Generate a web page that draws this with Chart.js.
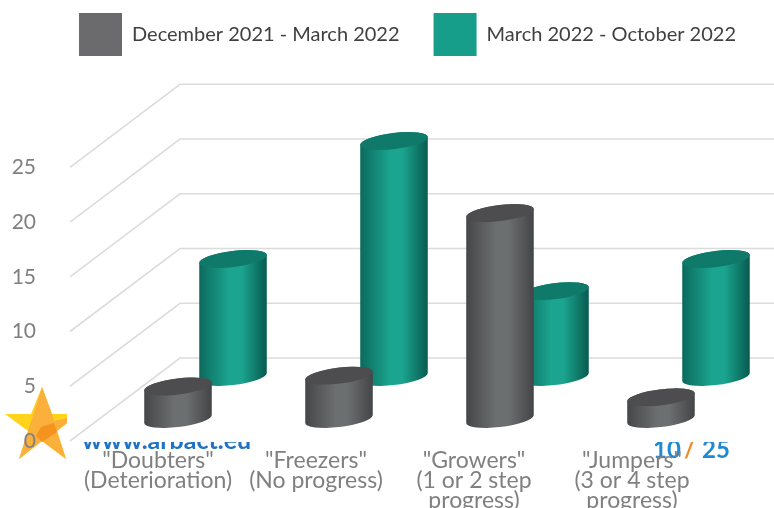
<!DOCTYPE html>
<html>
<head>
<meta charset="utf-8">
<style>
  html, body { margin: 0; padding: 0; background: #fff; overflow: hidden; }
</style>
</head>
<body>
<canvas id="chart" width="774" height="508"></canvas>
<script src="https://cdn.jsdelivr.net/npm/chart.js@4/dist/chart.umd.min.js"></script>
<script>
const categories = [
  ['"Doubters"', '(Deterioration)'],
  ['"Freezers"', '(No progress)'],
  ['"Growers"', '(1 or 2 step', 'progress)'],
  ['"Jumpers"', '(3 or 4 step', 'progress)']
];
const seriesNames = ['December 2021 - March 2022', 'March 2022 - October 2022'];
const decemberMarch = [3, 4, 19, 2];
const marchOctober = [11, 22, 8, 11];

const fontName = 'Lato, sans-serif';
const lastTick = 25;

// depth of each row of cylinders on the 3d floor, and look of the cylinders
// far is the slight perspective shrink of the height
const looks = [
  { dx: 30, dy: -22, far: 0.99, cap: '#4d4d4f', edgeL: '#454647', mid: '#6c6f70', edgeR: '#434445' },
  { dx: 85, dy: -64, far: 0.98, cap: '#0f7a6a', edgeL: '#0b6a5c', mid: '#1ba590', edgeR: '#085a4e' }
];
const radiusX = 34, radiusY = 8, tilt = -7 * Math.PI / 180;

function drawCylinder(ctx, x, topY, baseY, look) {
  const t0 = Math.atan(-(radiusY / radiusX) * Math.tan(tilt));
  const grad = ctx.createLinearGradient(x - radiusX, 0, x + radiusX, 0);
  grad.addColorStop(0, look.edgeL);
  grad.addColorStop(0.45, look.mid);
  grad.addColorStop(0.62, look.mid);
  grad.addColorStop(1, look.edgeR);
  ctx.fillStyle = grad;
  ctx.beginPath();
  ctx.ellipse(x, baseY, radiusX, radiusY, tilt, t0, t0 + Math.PI);
  ctx.ellipse(x, topY, radiusX, radiusY, tilt, t0 + Math.PI, t0 + 2 * Math.PI);
  ctx.closePath();
  ctx.fill();
  ctx.fillStyle = look.cap;
  ctx.beginPath();
  ctx.ellipse(x, topY, radiusX, radiusY, tilt, 0, 2 * Math.PI);
  ctx.fill();
}

function polygon(ctx, pts, color) {
  ctx.fillStyle = color;
  ctx.beginPath();
  pts.forEach((p, i) => i ? ctx.lineTo(p[0], p[1]) : ctx.moveTo(p[0], p[1]));
  ctx.closePath();
  ctx.fill();
}

// slide leftovers under the chart: star, site address, page number
const slideBits = {
  id: 'slideBits',
  beforeDraw(chart) {
    const ctx = chart.ctx;
    ctx.save();
    ctx.beginPath();
    ctx.rect(0, 380, 67, 90);
    ctx.clip();
    polygon(ctx, [[42,387],[52,414],[79,414],[57,431],[66,459],[42,441],[19,459],[28,431],[5,414],[31,414]], '#ffd31a');
    polygon(ctx, [[42,387],[52,414],[54,421],[67,418],[67,423],[57,431],[66,459],[42,441],[19,459],[28,431]], '#fbb03b');
    polygon(ctx, [[36,436],[41,427],[54,423],[57,432],[42,442]], '#f6921e');
    ctx.restore();

    ctx.save();
    ctx.beginPath();
    ctx.rect(70, 442, 704, 30);
    ctx.clip();
    ctx.textBaseline = 'alphabetic';
    ctx.font = 'bold 25px ' + fontName;
    ctx.fillStyle = '#1f72c4';
    ctx.fillText('www.arbact.eu', 82, 449);
    ctx.font = 'bold 24px ' + fontName;
    ctx.fillStyle = '#1f8ad2';
    ctx.fillText('10', 653, 458);
    ctx.fillText('25', 702, 458);
    ctx.fillStyle = '#f28c28';
    ctx.fillText('/', 684, 458);
    ctx.restore();
  },
  // walls of the 3d box
  beforeDatasetsDraw(chart) {
    const ctx = chart.ctx, y = chart.scales.y;
    ctx.save();
    ctx.strokeStyle = '#dcdcdc';
    ctx.lineWidth = 1.6;
    y.ticks.forEach(t => {
      const py = y.getPixelForValue(t.value);
      ctx.beginPath();
      ctx.moveTo(70, py);
      ctx.lineTo(180, py - 83);
      ctx.lineTo(774, py - 83);
      ctx.stroke();
    });
    ctx.restore();
  },
  // cylinders instead of the flat bars
  beforeDatasetDraw(chart, args) {
    const look = looks[args.index], ctx = chart.ctx;
    const y = chart.scales.y;
    const baseY = y.getPixelForValue(0);
    ctx.save();
    args.meta.data.forEach((bar, i) => {
      const value = chart.data.datasets[args.index].data[i].y;
      const height = (baseY - y.getPixelForValue(value)) * look.far;
      drawCylinder(ctx, bar.x + look.dx, baseY + look.dy - height, baseY + look.dy, look);
    });
    ctx.restore();
    return false;
  }
};

new Chart(document.getElementById('chart'), {
  type: 'bar',
  plugins: [slideBits],
  data: {
    labels: categories,
    datasets: [
      {
        label: seriesNames[0],
        data: decemberMarch.map((v, i) => ({ x: i, y: v })),
        backgroundColor: '#6b6b6d',
        xAxisID: 'xBars'
      },
      {
        label: seriesNames[1],
        data: marchOctober.map((v, i) => ({ x: i, y: v })),
        backgroundColor: '#179e8b',
        xAxisID: 'xBars'
      }
    ]
  },
  options: {
    responsive: false,
    animation: false,
    grouped: false,
    layout: { padding: { top: -21, left: 0, right: 4, bottom: 0 } },
    plugins: {
      tooltip: { enabled: false },
      legend: {
        position: 'top',
        align: 'end',
        onClick: null,
        labels: {
          boxWidth: 43,
          boxHeight: 43,
          padding: 34,
          color: '#404040',
          font: { family: fontName, size: 20 }
        }
      }
    },
    scales: {
      x: {
        type: 'category',
        offset: true,
        grid: { display: false, drawTicks: false },
        border: { display: false },
        afterFit(scale) { scale.height = 67; },
        ticks: {
          autoSkip: false,
          maxRotation: 0,
          padding: 10,
          color: '#808080',
          font: { family: fontName, size: 23, lineHeight: 0.87 }
        }
      },
      xBars: {
        type: 'linear',
        axis: 'x',
        display: false,
        offset: false,
        min: -0.4286,
        max: 3.497
      },
      y: {
        min: 0,
        max: 34.25,
        afterFit(scale) { scale.width = 79; },
        afterBuildTicks(scale) { scale.ticks = scale.ticks.filter(t => t.value <= lastTick); },
        grid: { display: false, drawTicks: false },
        border: { display: false },
        ticks: {
          stepSize: 5,
          padding: 43,
          color: '#808080',
          font: { family: fontName, size: 21 }
        }
      },
      rightGap: {
        type: 'linear',
        axis: 'y',
        position: 'right',
        afterFit(scale) { scale.width = 59; },
        grid: { display: false, drawTicks: false },
        border: { display: false },
        ticks: { display: false }
      }
    }
  }
});
</script>
</body>
</html>
